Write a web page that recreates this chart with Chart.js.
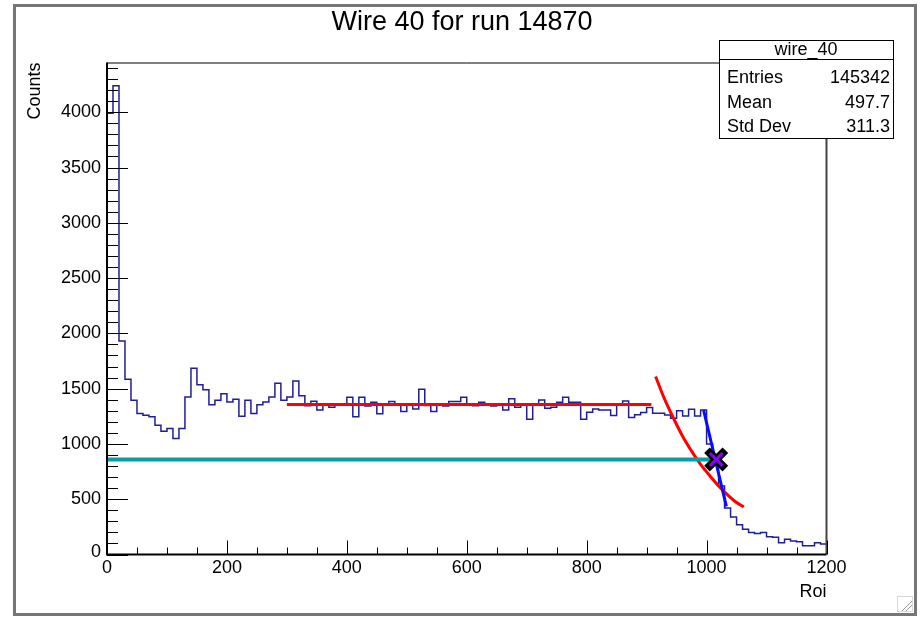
<!DOCTYPE html>
<html>
<head>
<meta charset="utf-8">
<title>Wire 40 for run 14870</title>
<script src="https://cdn.jsdelivr.net/npm/chart.js@4.4.1/dist/chart.umd.min.js"></script>
<style>
  html, body { margin: 0; padding: 0; background: #fff; }
  #wrap { position: relative; width: 922px; height: 619px; }
</style>
</head>
<body>
<div id="wrap"><canvas id="myChart" width="922" height="619"></canvas></div>
<script>
// Binning dell'istogramma (asse Roi)
const binStart = 0;
const binWidth = 10;

// Conteggi per bin
const counts = [
  3990, 4240, 1930, 1585, 1395, 1275, 1260, 1245, 1170, 1115,
  1140, 1050, 1140, 1425, 1685, 1535, 1490, 1355, 1395, 1455,
  1380, 1405, 1250, 1395, 1275, 1355, 1380, 1425, 1550, 1395,
  1425, 1570, 1436, 1345, 1385, 1308, 1350, 1332, 1360, 1360,
  1423, 1247, 1423, 1344, 1377, 1272, 1359, 1383, 1359, 1293,
  1359, 1317, 1495, 1347, 1293, 1359, 1344, 1383, 1383, 1423,
  1359, 1346, 1377, 1359, 1344, 1359, 1308, 1408, 1332, 1359,
  1223, 1359, 1398, 1323, 1332, 1377, 1423, 1377, 1377, 1223,
  1287, 1317, 1308, 1308, 1257, 1359, 1389, 1240, 1265, 1285,
  1329, 1277, 1277, 1262, 1232, 1301, 1253, 1313, 1253, 1307,
  1000, 850, 620, 420, 340, 270, 228, 199, 190, 199,
  161, 155, 107, 137, 122, 116, 80, 80, 107, 95
];

// Fit piatto (rosso)
const flatFitX = [300, 908];
const flatFitY = [1357, 1357];

// Fit della discesa (curva rossa)
const expFitX = [915, 930, 945, 960, 975, 990, 1005, 1020, 1035, 1050, 1062];
const expFitY = [1610, 1405, 1230, 1070, 935, 815, 715, 620, 540, 470, 430];

// Fit del bordo (blu)
const edgeFitX = [995, 1014, 1033];
const edgeFitY = [1305, 870, 435];

// Livello a meta' altezza (ciano)
const levelX = [0, 1015];
const levelY = [860, 860];

// Punto trovato (croce)
const crossX = [1016];
const crossY = [860];

// Etichette degli assi
const xTicks = [0, 200, 400, 600, 800, 1000, 1200];
const yTicks = [0, 500, 1000, 1500, 2000, 2500, 3000, 3500, 4000];
const xMinorStep = 50;
const yMinorStep = 100;

// Box delle statistiche
const statsTitle = "wire_40";
const statsLabels = ["Entries", "Mean", "Std Dev"];
const statsValues = ["145342", "497.7", "311.3"];

const FONT = "'Liberation Sans', Arial, Helvetica, sans-serif";

// Converte due array in punti {x, y}
function toPoints(xs, ys) {
  const pts = [];
  for (let i = 0; i < xs.length; i++) {
    pts.push({ x: xs[i], y: ys[i] });
  }
  return pts;
}

// Punti a gradino per l'istogramma (bordo sinistro di ogni bin)
function histPoints() {
  const pts = [{ x: binStart, y: 0 }];
  for (let i = 0; i < counts.length; i++) {
    pts.push({ x: binStart + i * binWidth, y: counts[i] });
  }
  pts.push({ x: binStart + counts.length * binWidth, y: counts[counts.length - 1] });
  return pts;
}

// Plugin: cornice, tacche e testi in stile ROOT
const rootFrame = {
  id: "rootFrame",
  beforeDraw(chart) {
    const ctx = chart.ctx;
    ctx.save();
    ctx.fillStyle = "#fff";
    ctx.fillRect(0, 0, chart.width, chart.height);
    ctx.strokeStyle = "#767676";
    ctx.lineWidth = 3;
    ctx.strokeRect(14.5, 5.5, 901, 609);
    // maniglia di ridimensionamento
    ctx.strokeStyle = "#d8d8d8";
    ctx.lineWidth = 1;
    ctx.strokeRect(897.5, 596.5, 15, 15);
    ctx.strokeStyle = "#9a9a9a";
    ctx.beginPath();
    ctx.moveTo(902, 611); ctx.lineTo(912, 601);
    ctx.moveTo(906, 611); ctx.lineTo(912, 605);
    ctx.stroke();
    ctx.restore();
  },
  afterDraw(chart) {
    const ctx = chart.ctx;
    const a = chart.chartArea;
    const x = chart.scales.x;
    const y = chart.scales.y;
    ctx.save();

    // cornice del grafico
    ctx.strokeStyle = "#000";
    ctx.lineWidth = 1;
    ctx.beginPath();
    ctx.moveTo(a.left, a.top + 0.5);
    ctx.lineTo(a.right, a.top + 0.5);
    ctx.stroke();
    ctx.strokeStyle = "#444";
    ctx.lineWidth = 2;
    ctx.beginPath();
    ctx.moveTo(a.right, a.top);
    ctx.lineTo(a.right, a.bottom);
    ctx.stroke();
    ctx.strokeStyle = "#000";
    ctx.lineWidth = 2;
    ctx.beginPath();
    ctx.moveTo(a.left, a.top);
    ctx.lineTo(a.left, a.bottom);
    ctx.lineTo(a.right, a.bottom);
    ctx.stroke();

    // tacche asse Y (verso l'interno)
    ctx.lineWidth = 1;
    ctx.beginPath();
    for (let v = 0; v <= y.max; v += yMinorStep) {
      const py = Math.round(y.getPixelForValue(v)) + 0.5;
      const len = v % 500 === 0 ? 21 : 11;
      ctx.moveTo(a.left, py);
      ctx.lineTo(a.left + len, py);
    }
    // tacche asse X
    for (let v = 0; v <= x.max; v += xMinorStep) {
      const px = Math.round(x.getPixelForValue(v)) + 0.5;
      const len = v % 200 === 0 ? 14 : 7;
      ctx.moveTo(px, a.bottom);
      ctx.lineTo(px, a.bottom - len);
    }
    ctx.stroke();

    // etichette
    ctx.fillStyle = "#000";
    ctx.font = "18px " + FONT;
    ctx.textAlign = "right";
    ctx.textBaseline = "middle";
    yTicks.forEach(v => {
      const py = y.getPixelForValue(v);
      ctx.fillText(String(v), a.left - 6, v === 0 ? py - 2 : py);
    });
    ctx.textAlign = "center";
    ctx.textBaseline = "top";
    xTicks.forEach(v => {
      ctx.fillText(String(v), x.getPixelForValue(v), a.bottom + 5);
    });

    // titoli degli assi
    ctx.textAlign = "right";
    ctx.textBaseline = "middle";
    ctx.fillText("Roi", a.right, 592);
    ctx.save();
    ctx.translate(35, a.top);
    ctx.rotate(-Math.PI / 2);
    ctx.textAlign = "right";
    ctx.fillText("Counts", 0, 0);
    ctx.restore();

    // titolo
    ctx.font = "27px " + FONT;
    ctx.textAlign = "center";
    ctx.textBaseline = "middle";
    ctx.fillText("Wire 40 for run 14870", 462, 23);

    // box statistiche
    ctx.fillStyle = "#fff";
    ctx.fillRect(719.5, 40.5, 174, 98);
    ctx.strokeStyle = "#000";
    ctx.lineWidth = 1;
    ctx.strokeRect(719.5, 40.5, 174, 98);
    ctx.beginPath();
    ctx.moveTo(719.5, 59.5);
    ctx.lineTo(893.5, 59.5);
    ctx.stroke();
    ctx.fillStyle = "#000";
    ctx.font = "18px " + FONT;
    ctx.fillText(statsTitle, 806, 50);
    const rowY = [78, 103, 127];
    for (let i = 0; i < statsLabels.length; i++) {
      ctx.textAlign = "left";
      ctx.fillText(statsLabels[i], 727, rowY[i]);
      ctx.textAlign = "right";
      ctx.fillText(statsValues[i], 890, rowY[i]);
    }
    ctx.restore();
  }
};

const ctx = document.getElementById("myChart");
const chart = new Chart(ctx, {
  type: "line",
  data: {
    datasets: [
      {
        label: "wire_40",
        data: histPoints(),
        stepped: "before",
        borderColor: "#1e1e96",
        borderWidth: 1.5,
        pointRadius: 0,
        fill: false,
        order: 6
      },
      {
        label: "flat fit",
        data: toPoints(flatFitX, flatFitY),
        borderColor: "#ff0000",
        borderWidth: 3,
        pointRadius: 0,
        order: 5
      },
      {
        label: "tail fit",
        data: toPoints(expFitX, expFitY),
        borderColor: "#ff0000",
        borderWidth: 3,
        pointRadius: 0,
        cubicInterpolationMode: "monotone",
        order: 4
      },
      {
        label: "edge fit",
        data: toPoints(edgeFitX, edgeFitY),
        borderColor: "#0a0aff",
        borderWidth: 3,
        pointRadius: 0,
        order: 3
      },
      {
        label: "level",
        data: toPoints(levelX, levelY),
        borderColor: "#0b9aa6",
        borderWidth: 4,
        pointRadius: 0,
        order: 2
      },
      {
        label: "cross",
        data: toPoints(crossX, crossY),
        showLine: false,
        pointStyle: "crossRot",
        pointRadius: 13,
        pointBorderWidth: 8,
        pointBorderColor: "#000",
        order: 1
      },
      {
        label: "cross inner",
        data: toPoints(crossX, crossY),
        showLine: false,
        pointStyle: "crossRot",
        pointRadius: 9,
        pointBorderWidth: 3,
        pointBorderColor: "#8a00ff",
        order: 0
      }
    ]
  },
  options: {
    responsive: false,
    devicePixelRatio: 1,
    animation: false,
    events: [],
    layout: {
      padding: { left: 107, right: 95.5, top: 62.5, bottom: 64.5 }
    },
    plugins: {
      legend: { display: false },
      tooltip: { enabled: false },
      title: { display: false }
    },
    scales: {
      x: { type: "linear", min: 0, max: 1200, display: false },
      y: { type: "linear", min: 0, max: 4450, display: false }
    }
  },
  plugins: [rootFrame]
});
</script>
</body>
</html>
